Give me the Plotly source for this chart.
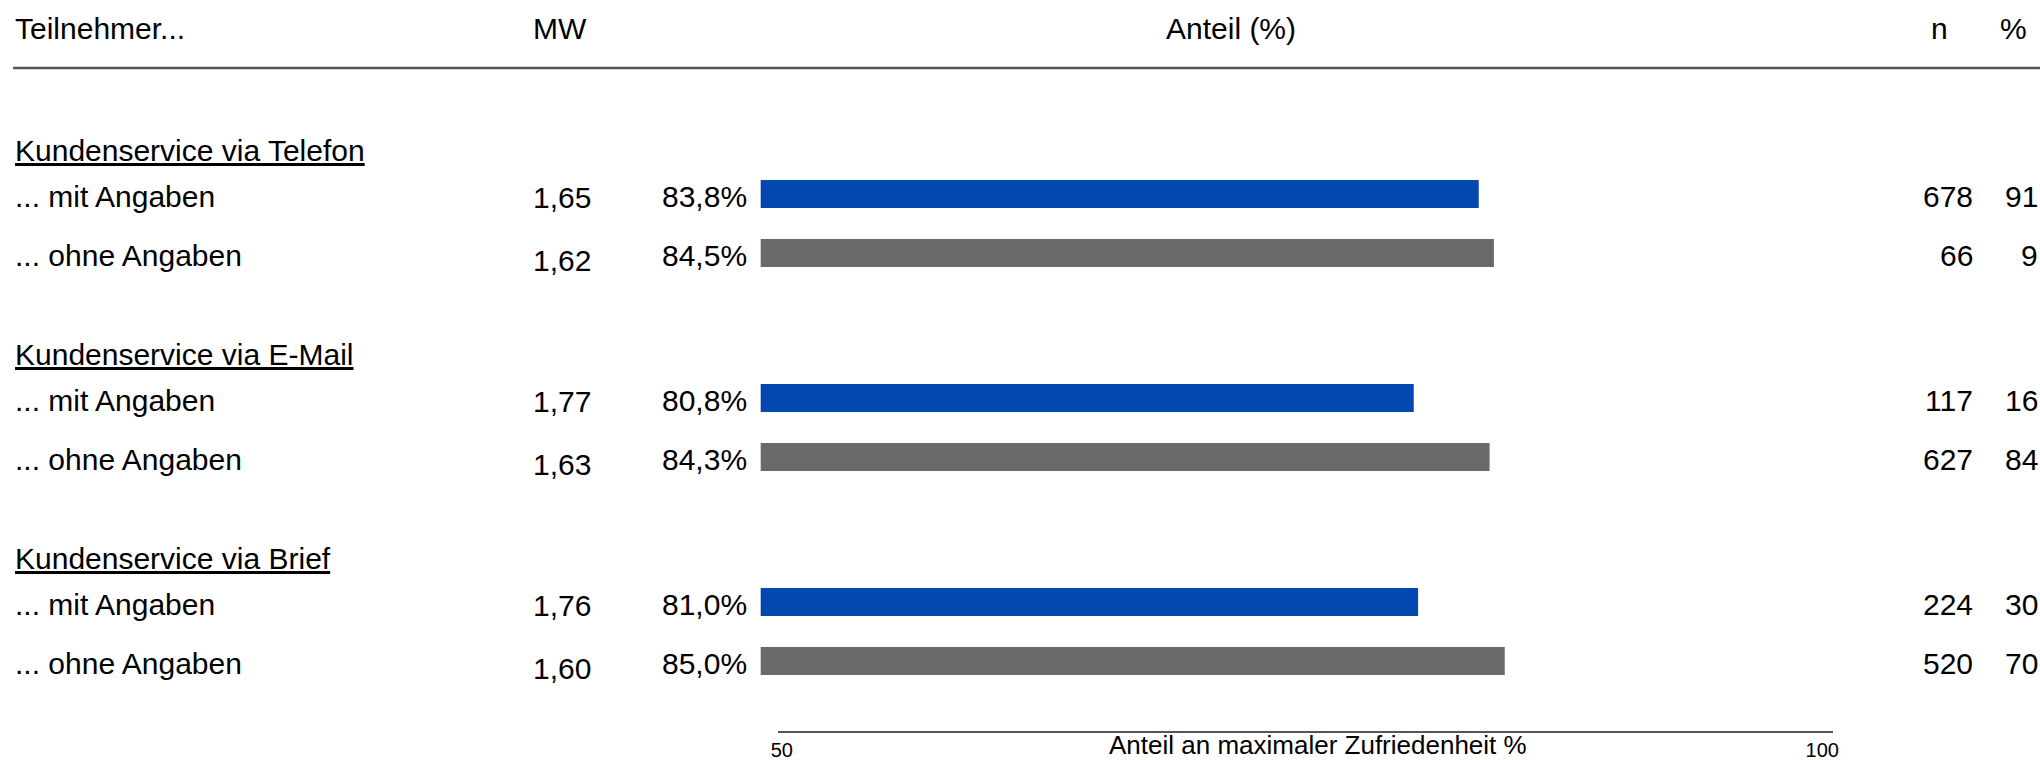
import plotly.graph_objects as go

# ---------------- data ----------------
groups = ["Kundenservice via Telefon", "Kundenservice via E-Mail", "Kundenservice via Brief"]
sub_labels = ["... mit Angaben", "... ohne Angaben"]

anteil_mit = [83.8, 80.8, 81.0]
anteil_ohne = [84.5, 84.3, 85.0]
mw_mit = [1.65, 1.77, 1.76]
mw_ohne = [1.62, 1.63, 1.60]
n_mit = [678, 117, 224]
n_ohne = [66, 627, 520]
pct_mit = [91, 16, 30]
pct_ohne = [9, 84, 70]

header_labels = ["Teilnehmer...", "MW", "Anteil (%)", "n", "%"]
axis_ticks = [50, 100]
axis_title = "Anteil an maximaler Zufriedenheit %"

# ---------------- layout constants ----------------
W, H = 2040, 760
FONT = "Arial, Liberation Sans, sans-serif"
FS = 30
BLUE = "#0348AE"
GRAY = "#696969"
LINE = "#555555"

ROW_PX = 59.0            # pixel distance between rows
FIRST_ROW_PX = 194.0     # pixel centre of first bar
GROUP_STEP = 204.0 / ROW_PX
HEADER_OFF = 46.0 / ROW_PX
BAR_BASE = 50.66

y_top = -FIRST_ROW_PX / ROW_PX
y_bot = (H - FIRST_ROW_PX) / ROW_PX

def fmt(v, d):
    return f"{v:.{d}f}".replace(".", ",")

def px(x):
    return x / W

def py(y):
    return 1 - y / H

y_mit = [g * GROUP_STEP for g in range(len(groups))]
y_ohne = [g * GROUP_STEP + 1 for g in range(len(groups))]
y_head = [g * GROUP_STEP - HEADER_OFF for g in range(len(groups))]

fig = go.Figure()

fig.add_trace(go.Bar(
    x=[v - BAR_BASE for v in anteil_mit], y=y_mit, base=BAR_BASE,
    orientation="h", marker=dict(color=BLUE, line=dict(width=0)),
    width=28 / ROW_PX, hoverinfo="skip", showlegend=False))
fig.add_trace(go.Bar(
    x=[v - BAR_BASE for v in anteil_ohne], y=y_ohne, base=BAR_BASE,
    orientation="h", marker=dict(color=GRAY, line=dict(width=0)),
    width=28 / ROW_PX, hoverinfo="skip", showlegend=False))

# invisible trace so the bottom scale axis gets drawn
fig.add_trace(go.Scatter(x=axis_ticks, y=[y_mit[0], y_mit[0]], xaxis="x2", yaxis="y",
                         mode="markers", marker=dict(opacity=0),
                         hoverinfo="skip", showlegend=False))

ann = []
def add(text, x, y, xanchor, yref="y", yshift=0, size=FS):
    ann.append(dict(text=text, x=px(x), xref="paper", y=y, yref=yref,
                    xanchor=xanchor, yanchor="middle", showarrow=False,
                    yshift=yshift, font=dict(family=FONT, size=size, color="black")))

# header row
hy = py(29)
add(header_labels[0], 13, hy, "left", yref="paper")
add(header_labels[1], 560, hy, "center", yref="paper")
add(header_labels[2], 1231, hy, "center", yref="paper")
add(header_labels[3], 1939, hy, "center", yref="paper")
add(header_labels[4], 2013, hy, "center", yref="paper")

for g in range(len(groups)):
    add(f"<u>{groups[g]}</u>", 13, y_head[g], "left", yshift=-2)
    for yv, lab, mw, an, n, pc, mws in [
        (y_mit[g], sub_labels[0], mw_mit[g], anteil_mit[g], n_mit[g], pct_mit[g], -3),
        (y_ohne[g], sub_labels[1], mw_ohne[g], anteil_ohne[g], n_ohne[g], pct_ohne[g], -7),
    ]:
        add(lab, 13, yv, "left", yshift=-2)
        add(fmt(mw, 2), 562, yv, "center", yshift=mws)
        add(fmt(an, 1) + "%", 749, yv, "right", yshift=-2)
        add(str(n), 1975, yv, "right", yshift=-2)
        add(str(pc), 2040, yv, "right", yshift=-2)

# bottom axis title
add(axis_title, 1318, py(745), "center", yref="paper", size=26)

slope = 21.667  # px per unit on bar scale
x0 = 50 - 746.4 / slope
x1 = x0 + W / slope

fig.update_layout(
    width=W, height=H,
    margin=dict(l=0, r=0, t=0, b=0, pad=0, autoexpand=False),
    paper_bgcolor="white", plot_bgcolor="rgba(0,0,0,0)",
    barmode="overlay",
    xaxis=dict(range=[x0, x1], visible=False, domain=[0, 1], fixedrange=True,
               automargin=False),
    yaxis=dict(range=[y_bot, y_top], visible=False, fixedrange=True,
               automargin=False),
    xaxis2=dict(range=[49.8, 100.5], domain=[777.7 / W, 1832.7 / W],
                anchor="free", position=py(731.7), side="bottom",
                showline=True, linecolor=LINE, linewidth=2, automargin=False,
                showgrid=False, zeroline=False, ticks="", fixedrange=True,
                tickvals=axis_ticks, ticktext=[str(t) for t in axis_ticks],
                tickfont=dict(family=FONT, size=20, color="black")),
    annotations=ann,
    shapes=[dict(type="line", xref="paper", yref="paper",
                 x0=px(13), x1=1, y0=py(68), y1=py(68),
                 line=dict(color=LINE, width=2.5))],
    showlegend=False,
)

fig.write_html("out.html", config={"displayModeBar": False},
               post_script="document.body.style.margin='0';document.body.style.overflow='hidden';")
